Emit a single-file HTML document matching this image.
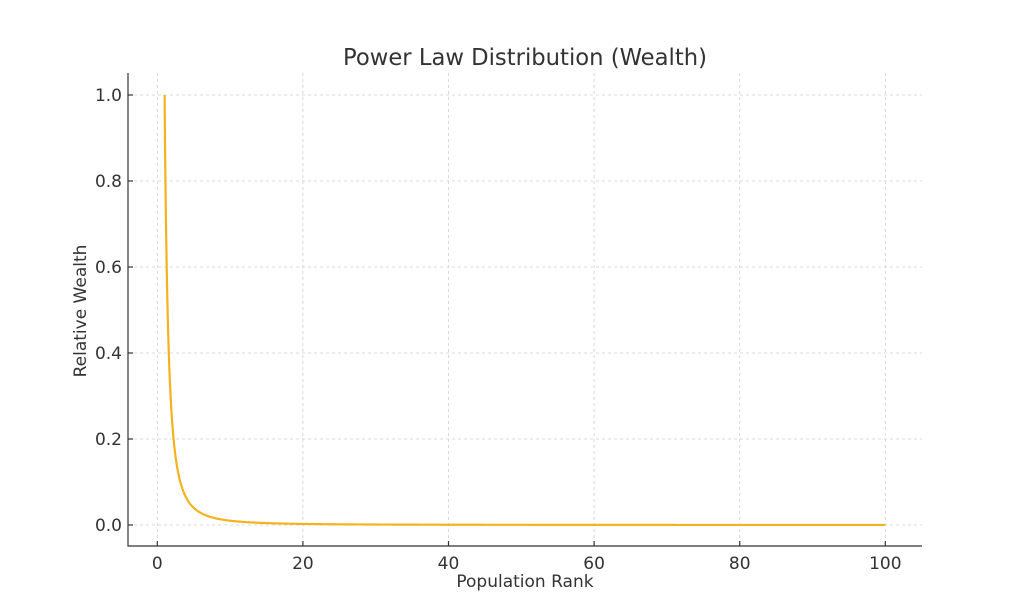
<!DOCTYPE html>
<html><head><meta charset="utf-8"><style>
html,body{margin:0;padding:0;background:#fff;}
svg{display:block;font-family:"DejaVu Sans","Liberation Sans",sans-serif;}
</style></head><body>
<svg id="s" width="1024" height="614" viewBox="0 0 1024 614" xmlns="http://www.w3.org/2000/svg">
<rect width="1024" height="614" fill="#fff"/>
<g stroke="#cfcfcf" stroke-width="0.8" stroke-dasharray="3,3" fill="none">
<line x1="157.3" y1="73" x2="157.3" y2="546"/>
<line x1="302.9" y1="73" x2="302.9" y2="546"/>
<line x1="448.5" y1="73" x2="448.5" y2="546"/>
<line x1="594.1" y1="73" x2="594.1" y2="546"/>
<line x1="739.7" y1="73" x2="739.7" y2="546"/>
<line x1="885.3" y1="73" x2="885.3" y2="546"/>
<line x1="128" y1="95" x2="922" y2="95"/>
<line x1="128" y1="181" x2="922" y2="181"/>
<line x1="128" y1="267" x2="922" y2="267"/>
<line x1="128" y1="353" x2="922" y2="353"/>
<line x1="128" y1="439" x2="922" y2="439"/>
<line x1="128" y1="525" x2="922" y2="525"/>
</g>
<path id="curve" fill="none" stroke="#f5b21f" stroke-width="2.2" stroke-linejoin="round"/>
<g stroke="#333" stroke-width="1.2">
<line x1="128" y1="73" x2="128" y2="546.5"/>
<line x1="127.5" y1="546" x2="922" y2="546"/>
<line x1="157.3" y1="546" x2="157.3" y2="541"/>
<line x1="302.9" y1="546" x2="302.9" y2="541"/>
<line x1="448.5" y1="546" x2="448.5" y2="541"/>
<line x1="594.1" y1="546" x2="594.1" y2="541"/>
<line x1="739.7" y1="546" x2="739.7" y2="541"/>
<line x1="885.3" y1="546" x2="885.3" y2="541"/>
<line x1="128" y1="95" x2="133" y2="95"/>
<line x1="128" y1="181" x2="133" y2="181"/>
<line x1="128" y1="267" x2="133" y2="267"/>
<line x1="128" y1="353" x2="133" y2="353"/>
<line x1="128" y1="439" x2="133" y2="439"/>
<line x1="128" y1="525" x2="133" y2="525"/>
</g>
<g fill="#333" font-size="17" text-anchor="middle">
<text x="157.3" y="569">0</text>
<text x="302.9" y="569">20</text>
<text x="448.5" y="569">40</text>
<text x="594.1" y="569">60</text>
<text x="739.7" y="569">80</text>
<text x="885.3" y="569">100</text>
</g>
<g fill="#333" font-size="17" text-anchor="end">
<text x="122" y="101">1.0</text>
<text x="122" y="187">0.8</text>
<text x="122" y="273">0.6</text>
<text x="122" y="359">0.4</text>
<text x="122" y="445">0.2</text>
<text x="122" y="531">0.0</text>
</g>
<text x="525" y="587" fill="#333" font-size="17" text-anchor="middle">Population Rank</text>
<text transform="translate(86,311) rotate(-90)" fill="#333" font-size="17" text-anchor="middle">Relative Wealth</text>
<text x="525" y="65" fill="#333" font-size="22.7" text-anchor="middle">Power Law Distribution (Wealth)</text>
</svg>
<script>
var d="";for(var i=0;i<=2000;i++){var x=1+99*Math.pow(i/2000,2);var y=1/(x*x);var px=157.3+x*7.28,py=525-y*430;d+=(i?"L":"M")+px.toFixed(2)+","+py.toFixed(2);}
document.getElementById("curve").setAttribute("d",d);
</script>
</body></html>
